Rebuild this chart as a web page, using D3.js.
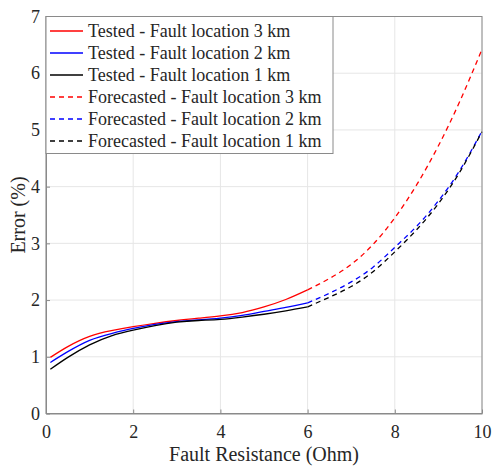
<!DOCTYPE html>
<html>
<head>
<meta charset="utf-8">
<script src="https://cdn.jsdelivr.net/npm/d3@7"></script>
<style>
  body { margin: 0; background: #fff; }
  svg text { font-family: "Liberation Serif", Tinos, "Times New Roman", Times, "DejaVu Serif", serif; fill: #262626; }
</style>
</head>
<body>
<svg id="chart" width="493" height="466"></svg>
<script>
// tested range 0.1 .. 6 Ohm
const testedX = [0.1, 0.5, 1, 1.5, 2, 2.5, 3, 3.5, 4, 4.5, 5, 5.5, 6];
const tested3km = [0.99, 1.18, 1.36, 1.46, 1.53, 1.59, 1.64, 1.68, 1.72, 1.78, 1.88, 2.01, 2.18];
const tested2km = [0.90, 1.09, 1.29, 1.41, 1.50, 1.57, 1.62, 1.65, 1.68, 1.73, 1.80, 1.87, 1.95];
const tested1km = [0.78, 0.99, 1.21, 1.37, 1.47, 1.55, 1.61, 1.64, 1.66, 1.70, 1.75, 1.81, 1.88];

// forecast range 6 .. 10 Ohm
const forecastX = [6, 6.5, 7, 7.5, 8, 8.5, 9, 9.5, 10];
const forecast3km = [2.18, 2.38, 2.63, 2.98, 3.45, 4.03, 4.72, 5.52, 6.42];
const forecast2km = [1.95, 2.12, 2.32, 2.58, 2.93, 3.30, 3.75, 4.30, 4.98];
const forecast1km = [1.88, 2.05, 2.24, 2.50, 2.85, 3.24, 3.70, 4.27, 4.97];

const xTicks = [0, 2, 4, 6, 8, 10];
const yTicks = [0, 1, 2, 3, 4, 5, 6, 7];

const seriesNames = [
  "Tested - Fault location 3 km",
  "Tested - Fault location 2 km",
  "Tested - Fault location 1 km",
  "Forecasted - Fault location 3 km",
  "Forecasted - Fault location 2 km",
  "Forecasted - Fault location 1 km"
];

const series = [
  { name: seriesNames[0], xs: testedX, ys: tested3km, color: "#ff0000", dash: null },
  { name: seriesNames[1], xs: testedX, ys: tested2km, color: "#0000ff", dash: null },
  { name: seriesNames[2], xs: testedX, ys: tested1km, color: "#000000", dash: null },
  { name: seriesNames[3], xs: forecastX, ys: forecast3km, color: "#ff0000", dash: "5,4" },
  { name: seriesNames[4], xs: forecastX, ys: forecast2km, color: "#0000ff", dash: "5,4" },
  { name: seriesNames[5], xs: forecastX, ys: forecast1km, color: "#000000", dash: "5,4" }
];

const svg = d3.select("#chart");
const margin = { top: 16.5, right: 11, bottom: 52.5, left: 46 };
const width = 493 - margin.left - margin.right;
const height = 466 - margin.top - margin.bottom;

const g = svg.append("g")
  .attr("transform", `translate(${margin.left},${margin.top})`);

const x = d3.scaleLinear().domain([0, 10]).range([0, width]);
const y = d3.scaleLinear().domain([0, 7]).range([height, 0]);

// grid
g.append("g")
  .selectAll("line")
  .data(xTicks)
  .enter()
  .append("line")
  .attr("x1", d => x(d)).attr("x2", d => x(d))
  .attr("y1", 0).attr("y2", height)
  .attr("stroke", "#e6e6e6");

g.append("g")
  .selectAll("line")
  .data(yTicks)
  .enter()
  .append("line")
  .attr("x1", 0).attr("x2", width)
  .attr("y1", d => y(d)).attr("y2", d => y(d))
  .attr("stroke", "#e6e6e6");

// curves
const line = d3.line()
  .x(d => x(d[0]))
  .y(d => y(d[1]))
  .curve(d3.curveNatural);

series.forEach(s => {
  g.append("path")
    .datum(s.xs.map((v, i) => [v, s.ys[i]]))
    .attr("fill", "none")
    .attr("stroke", s.color)
    .attr("stroke-width", 1.3)
    .attr("stroke-dasharray", s.dash)
    .attr("d", line);
});

// axes (ticks pointing inward, MATLAB style)
const xAxis = g.append("g")
  .attr("transform", `translate(0,${height})`)
  .call(d3.axisBottom(x).tickValues(xTicks).tickFormat(d3.format("d"))
    .tickSizeInner(-4).tickSizeOuter(0).tickPadding(12));

const yAxis = g.append("g")
  .call(d3.axisLeft(y).tickValues(yTicks).tickFormat(d3.format("d"))
    .tickSizeInner(-4).tickSizeOuter(0).tickPadding(6));

[xAxis, yAxis].forEach(a => {
  a.attr("font-family", null).attr("font-size", null);
  a.select(".domain").attr("stroke", "#8a8a8a");
  a.selectAll(".tick line").attr("stroke", "#8a8a8a");
  a.selectAll(".tick text")
    .style("font-size", "18px")
    .attr("fill", "#262626");
});

// top and right border
g.append("rect")
  .attr("width", width)
  .attr("height", height)
  .attr("fill", "none")
  .attr("stroke", "#8a8a8a");

// axis labels
g.append("text")
  .attr("x", width / 2)
  .attr("y", height + 47)
  .attr("text-anchor", "middle")
  .style("font-size", "20px")
  .text("Fault Resistance (Ohm)");

g.append("text")
  .attr("transform", "rotate(-90)")
  .attr("x", -(215 - margin.top))
  .attr("y", -21)
  .attr("text-anchor", "middle")
  .style("font-size", "20px")
  .text("Error (%)");

// legend
const legend = g.append("g");
legend.append("rect")
  .attr("x", 0).attr("y", 0)
  .attr("width", 287).attr("height", 137)
  .attr("fill", "#fff")
  .attr("stroke", "#8a8a8a");

const row = legend.selectAll(".row")
  .data(series)
  .enter()
  .append("g")
  .attr("transform", (d, i) => `translate(0,${14.5 + i * 22})`);

row.append("line")
  .attr("x1", 4).attr("x2", 37)
  .attr("stroke", d => d.color)
  .attr("stroke-width", 1.3)
  .attr("stroke-dasharray", d => d.dash);

row.append("text")
  .attr("x", 42)
  .attr("dy", "0.33em")
  .style("font-size", "18px")
  .text(d => d.name);
</script>
</body>
</html>
